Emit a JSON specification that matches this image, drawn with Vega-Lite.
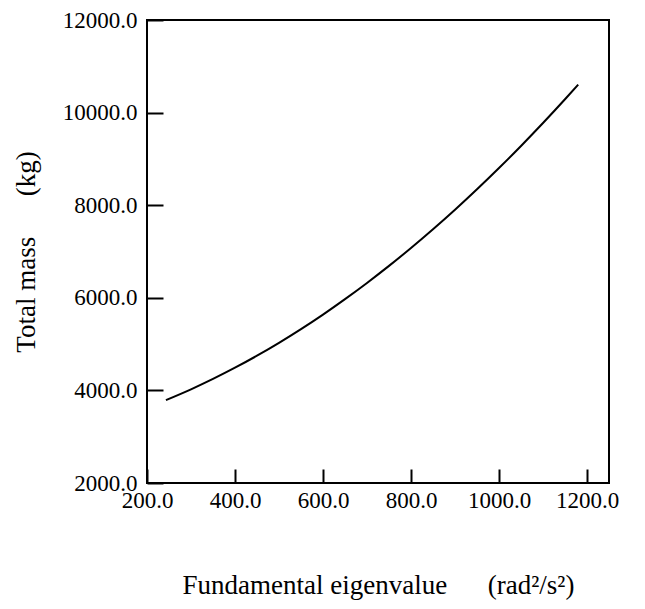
{
  "$schema": "https://vega.github.io/schema/vega-lite/v6.json",
  "width": 462,
  "height": 463,
  "autosize": "none",
  "padding": {"left": 147, "top": 20, "right": 36, "bottom": 126},
  "background": "white",
  "config": {
    "font": "Liberation Serif",
    "view": {"stroke": "black", "strokeWidth": 2},
    "axis": {
      "grid": false,
      "domain": false,
      "tickColor": "black",
      "tickWidth": 2,
      "labelColor": "black",
      "titleColor": "black",
      "labelFont": "Liberation Serif",
      "titleFont": "Liberation Serif",
      "labelFontSize": 23,
      "titleFontSize": 27,
      "titleFontWeight": "normal",
      "labelOverlap": false,
      "labelBound": false,
      "labelFlush": false
    }
  },
  "data": {
    "values": [
      {"lambda": 243, "mass": 3791},
      {"lambda": 300, "mass": 4024},
      {"lambda": 350, "mass": 4248},
      {"lambda": 400, "mass": 4490},
      {"lambda": 450, "mass": 4750},
      {"lambda": 500, "mass": 5028},
      {"lambda": 550, "mass": 5324},
      {"lambda": 600, "mass": 5638},
      {"lambda": 650, "mass": 5971},
      {"lambda": 700, "mass": 6321},
      {"lambda": 750, "mass": 6689},
      {"lambda": 800, "mass": 7076},
      {"lambda": 850, "mass": 7481},
      {"lambda": 900, "mass": 7903},
      {"lambda": 950, "mass": 8344},
      {"lambda": 1000, "mass": 8803},
      {"lambda": 1050, "mass": 9280},
      {"lambda": 1100, "mass": 9775},
      {"lambda": 1150, "mass": 10288},
      {"lambda": 1180, "mass": 10605}
    ]
  },
  "mark": {"type": "line", "color": "black", "strokeWidth": 2, "interpolate": "monotone"},
  "encoding": {
    "x": {
      "field": "lambda",
      "type": "quantitative",
      "scale": {"domain": [200, 1250], "nice": false, "zero": false},
      "axis": {
        "values": [200, 400, 600, 800, 1000, 1200],
        "format": ".1f",
        "tickSize": -14,
        "labelPadding": 20,
        "title": "Fundamental eigenvalue\u00a0\u00a0\u00a0\u00a0\u00a0\u00a0(rad\u00b2/s\u00b2)",
        "titlePadding": 60
      }
    },
    "y": {
      "field": "mass",
      "type": "quantitative",
      "scale": {"domain": [2000, 12000], "nice": false, "zero": false},
      "axis": {
        "values": [2000, 4000, 6000, 8000, 10000, 12000],
        "format": ".1f",
        "tickSize": -16,
        "labelPadding": 26,
        "title": "Total mass\u00a0\u00a0\u00a0\u00a0\u00a0\u00a0(kg)",
        "titlePadding": 22
      }
    }
  }
}
